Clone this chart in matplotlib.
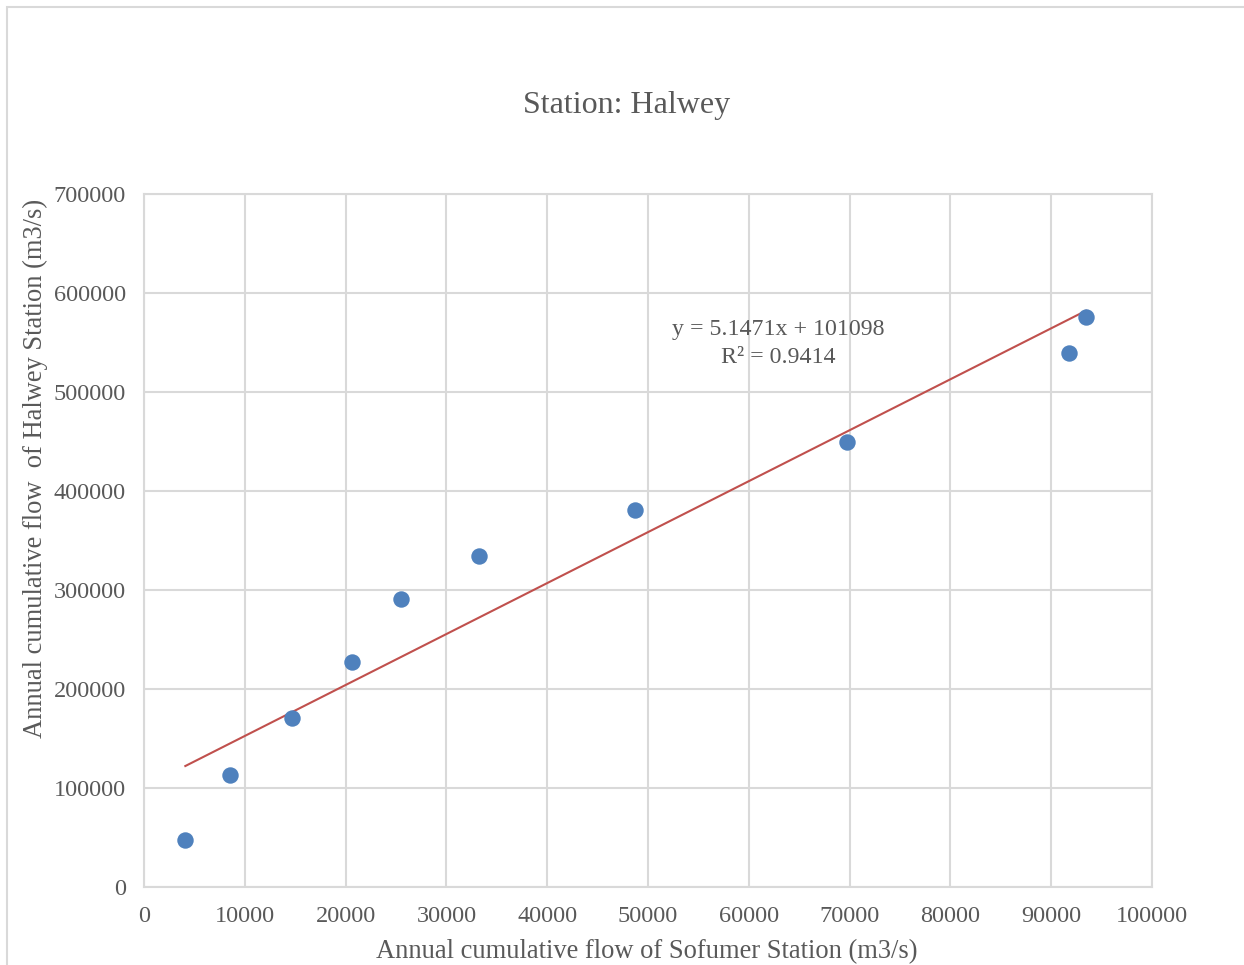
import numpy as np
import matplotlib.pyplot as plt
from matplotlib.patches import Rectangle

# annual cumulative flows
sofumer = [4100, 8550, 14700, 20650, 25500, 33250, 48700, 69750, 91750, 93450]
halwey = [47000, 113000, 171000, 227000, 291000, 334500, 380500, 450000, 539000, 576000]

slope = 5.1471
intercept = 101098
r2 = 0.9414

plt.rcParams['font.family'] = ['Liberation Serif', 'DejaVu Serif']
grey_txt = '#595959'
grid_c = '#D9D9D9'

fig = plt.figure(figsize=(12.44, 9.65), dpi=100)
fig.patches.append(Rectangle((7 / 1244, -0.01), 1.02, 1 - 7 / 965 + 0.01,
                             transform=fig.transFigure, fill=False,
                             edgecolor=grid_c, linewidth=1.5))

ax = fig.add_axes([144 / 1244, 1 - 887 / 965, (1152 - 144) / 1244, (887 - 194) / 965])

ax.scatter(sofumer, halwey, s=140, color='#4F81BD', zorder=3, linewidths=0)

xt = np.array([min(sofumer), max(sofumer)])
ax.plot(xt, slope * xt + intercept, color='#C0504D', linewidth=1.5, zorder=2)

# trendline label (position in pixels of the figure)
fig.text(778 / 1244, 1 - 330 / 965, f'y = {slope}x + {intercept}',
         ha='center', va='center', fontsize=17.2, color=grey_txt)
fig.text(778 / 1244, 1 - 357 / 965, f'R² = {r2}',
         ha='center', va='center', fontsize=17.2, color=grey_txt)

ax.set_xlim(0, 100000)
ax.set_ylim(0, 700000)
ax.set_xticks(np.arange(0, 100001, 10000))
ax.set_yticks(np.arange(0, 700001, 100000))
ax.grid(True, color=grid_c, linewidth=1.5)
ax.set_axisbelow(True)
for sp in ax.spines.values():
    sp.set_color(grid_c)
    sp.set_linewidth(1.5)
ax.tick_params(length=0, labelsize=17.5, labelcolor=grey_txt, pad=13)
ax.tick_params(axis='x', pad=14)

fig.text(627 / 1244, 1 - 106 / 965, 'Station: Halwey', ha='center', va='center',
         fontsize=23, color=grey_txt)
fig.text(647 / 1244, 1 - 952 / 965, 'Annual cumulative flow of Sofumer Station (m3/s)',
         ha='center', va='center', fontsize=19.1, color=grey_txt)
fig.text(35 / 1244, 1 - 468 / 965, 'Annual cumulative flow  of Halwey Station (m3/s)',
         ha='center', va='center', rotation=90, fontsize=19.1, color=grey_txt)

fig.savefig('out.png', dpi=100)
